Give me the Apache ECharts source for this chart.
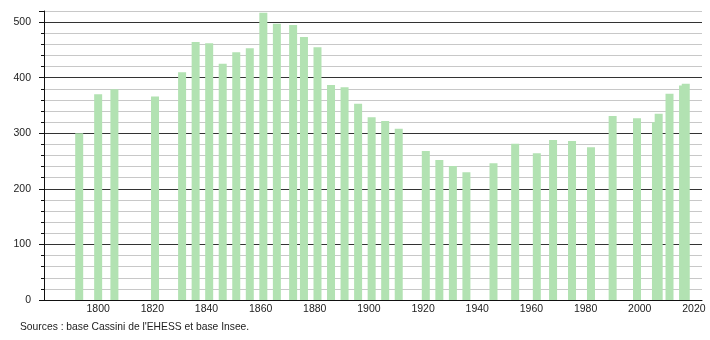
<!DOCTYPE html>
<html>
<head>
<meta charset="utf-8">
<script src="https://cdn.jsdelivr.net/npm/echarts@6/dist/echarts.min.js"></script>
<style>
html,body{margin:0;padding:0;background:#fff;}
#chart{width:710px;height:340px;}
</style>
</head>
<body>
<div id="chart"></div>
<script>
const years = [1793,1800,1806,1821,1831,1836,1841,1846,1851,1856,1861,1866,1872,1876,1881,1886,1891,1896,1901,1906,1911,1921,1926,1931,1936,1946,1954,1962,1968,1975,1982,1990,1999,2006,2007,2011,2016,2017];
const population = [300,370,379,366,410,464,462,425,446,453,517,497,495,473,455,387,383,353,329,322,308,268,252,241,230,246,281,264,288,286,275,331,327,320,335,371,386,389];
const xTickLabels = [1800,1820,1840,1860,1880,1900,1920,1940,1960,1980,2000,2020];
const yTickLabels = [0,100,200,300,400,500];
const sourceText = "Sources : base Cassini de l'EHESS et base Insee.";

const chart = echarts.init(document.getElementById('chart'));
const font = 'Liberation Sans, Arial, sans-serif';
chart.setOption({
  animation: false,
  backgroundColor: '#ffffff',
  grid: {left: 44, right: 8, top: 11, bottom: 40, containLabel: false},
  xAxis: {
    type: 'value', min: 1780, max: 2023, interval: 20,
    axisLine: {show: true, lineStyle: {color: '#111', width: 1}},
    axisTick: {show: false},
    splitLine: {show: false},
    axisLabel: {
      margin: 4, fontFamily: font, fontSize: 10.5, color: '#222',
      showMinLabel: false, showMaxLabel: false,
      formatter: v => xTickLabels.indexOf(v) >= 0 ? String(v) : ''
    }
  },
  yAxis: [{
    type: 'value', min: 0, max: 520, interval: 20,
    axisLine: {show: true, lineStyle: {color: '#111', width: 1}},
    axisTick: {show: true, length: 3, lineStyle: {color: '#111'}},
    splitLine: {show: true, lineStyle: {color: ['#333333','#c8c8c8','#c8c8c8','#c8c8c8','#c8c8c8'], width: 1}},
    axisLabel: {
      margin: 13, fontFamily: font, fontSize: 10.5, color: '#222',
      formatter: v => yTickLabels.indexOf(v) >= 0 ? String(v) : ''
    }
  }, {
    type: 'value', min: 0, max: 520, interval: 100, position: 'left',
    axisLine: {show: false},
    axisTick: {show: true, length: 5, lineStyle: {color: '#111'}},
    splitLine: {show: false},
    axisLabel: {show: false}
  }],
  series: [{
    type: 'bar',
    yAxisIndex: 0,
    barWidth: 8,
    itemStyle: {color: '#b2e2b2'},
    data: years.map((y, i) => [y, population[i]])
  }],
  graphic: [{
    type: 'text', left: 20, top: 322,
    style: {text: sourceText, fontFamily: font, fontSize: 10.3, fill: '#222'}
  }]
});
</script>
</body>
</html>
